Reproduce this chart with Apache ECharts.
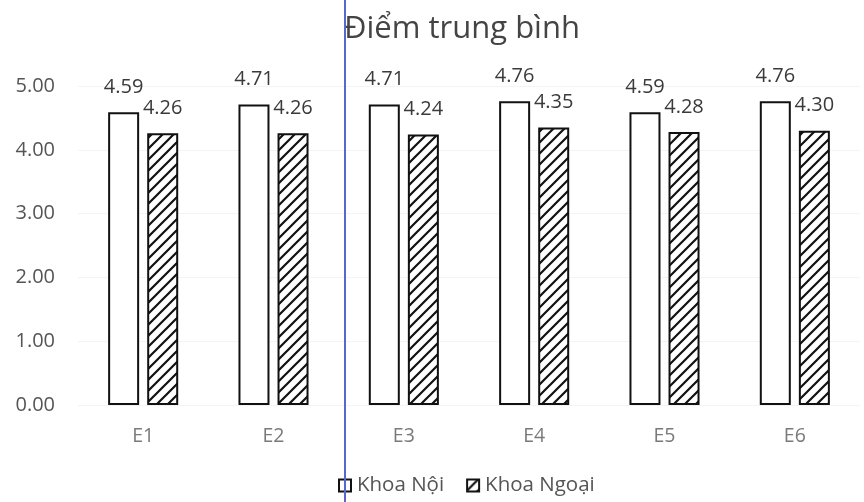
<!DOCTYPE html>
<html>
<head>
<meta charset="utf-8">
<script src="https://cdn.jsdelivr.net/npm/echarts@6/dist/echarts.min.js"></script>
<style>html,body{margin:0;padding:0;background:#fff;}#c{width:864px;height:502px;}</style>
</head>
<body>
<div id="c"></div>
<script>
const categories = ['E1', 'E2', 'E3', 'E4', 'E5', 'E6'];
const khoaNoi = [4.59, 4.71, 4.71, 4.76, 4.59, 4.76];
const khoaNgoai = [4.26, 4.26, 4.24, 4.35, 4.28, 4.30];
const seriesNames = ['Khoa Nội', 'Khoa Ngoại'];
const titleText = 'Điểm trung bình';

function hatch() {
  const s = 11;
  const cv = document.createElement('canvas');
  cv.width = s; cv.height = s;
  const g = cv.getContext('2d');
  g.fillStyle = '#fff';
  g.fillRect(0, 0, s, s);
  g.strokeStyle = '#111';
  g.lineWidth = 2.2;
  g.beginPath();
  g.moveTo(-2, s + 2); g.lineTo(s + 2, -2);
  g.moveTo(-s / 2 - 2, s / 2 + 2); g.lineTo(s / 2 + 2, -s / 2 - 2);
  g.moveTo(s / 2 - 2, s * 1.5 + 2); g.lineTo(s * 1.5 + 2, s / 2 - 2);
  g.stroke();
  return cv;
}

const font = '"Open Sans", "Noto Sans", sans-serif';
const chart = echarts.init(document.getElementById('c'));
chart.setOption({
  animation: false,
  backgroundColor: '#fff',
  title: {
    text: titleText, left: 457, top: 9, textAlign: 'center',
    textStyle: { fontFamily: font, fontSize: 31, fontWeight: 'normal', color: '#444' }
  },
  legend: {
    data: seriesNames, bottom: 1, left: 333, itemWidth: 12, itemHeight: 12, itemGap: 22, itemStyle: { borderWidth: 2 },
    icon: 'rect',
    textStyle: { fontFamily: font, fontSize: 20.5, color: '#555', padding: [0, 0, 0, 1] }
  },
  grid: { left: 78, right: 4, top: 86, bottom: 97 },
  xAxis: {
    type: 'category', data: categories,
    axisLine: { show: false }, axisTick: { show: false },
    axisLabel: { fontFamily: font, fontSize: 19.5, color: '#7a7a7a', margin: 21 }
  },
  yAxis: {
    type: 'value', min: 0, max: 5, interval: 1,
    axisLabel: { fontFamily: font, fontSize: 20, color: '#555', margin: 23, padding: [6, 0, 0, 0], formatter: v => v.toFixed(2) },
    splitLine: { lineStyle: { color: '#f4f4f4' } },
    axisLine: { show: false }, axisTick: { show: false }
  },
  graphic: [{
    type: 'line', z: 100, shape: { x1: 345, y1: 0, x2: 345, y2: 502 },
    style: { stroke: '#5668cc', lineWidth: 2 }
  }],
  series: [
    {
      name: seriesNames[0], type: 'bar', data: khoaNoi, barWidth: 31, barGap: '26%',
      itemStyle: { color: '#fff', borderColor: '#111', borderWidth: 2 },
      label: { show: true, position: 'top', distance: 15, fontFamily: font, fontSize: 20, color: '#3a3a3a', formatter: p => p.value.toFixed(2) }
    },
    {
      name: seriesNames[1], type: 'bar', data: khoaNgoai, barWidth: 31,
      itemStyle: { color: { image: hatch(), repeat: 'repeat' }, borderColor: '#111', borderWidth: 2 },
      label: { show: true, position: 'top', distance: 15, fontFamily: font, fontSize: 20, color: '#3a3a3a', formatter: p => p.value.toFixed(2) }
    }
  ]
});
</script>
</body>
</html>
